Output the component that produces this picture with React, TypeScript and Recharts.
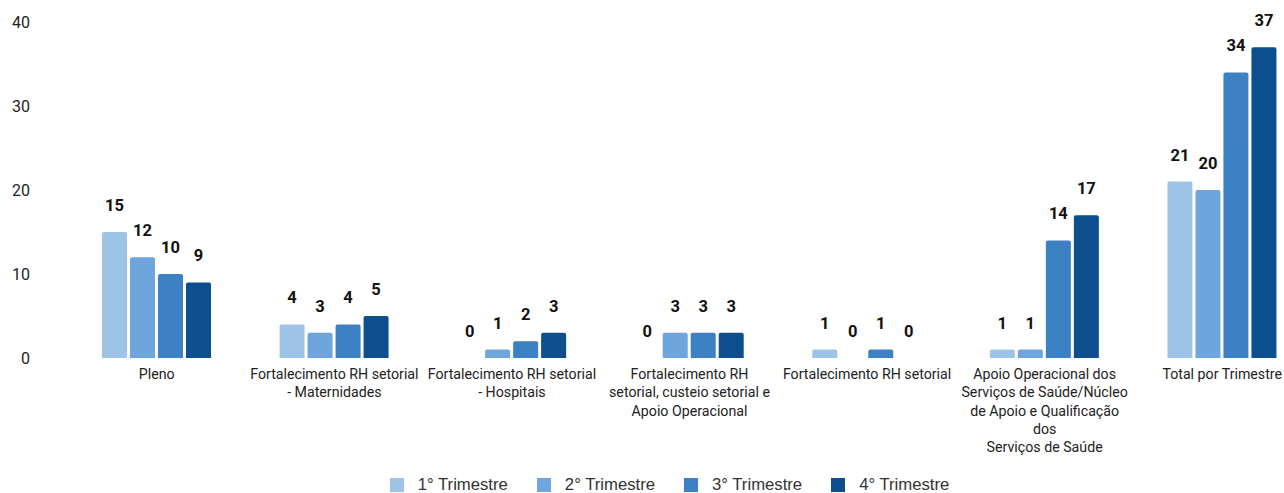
import React from 'react'
import { BarChart, Bar, XAxis, YAxis, Legend, LabelList, Rectangle } from 'recharts'

const categories = [
  'Pleno',
  'Fortalecimento RH setorial - Maternidades',
  'Fortalecimento RH setorial - Hospitais',
  'Fortalecimento RH setorial, custeio setorial e Apoio Operacional',
  'Fortalecimento RH setorial',
  'Apoio Operacional dos Serviços de Saúde/Núcleo de Apoio e Qualificação dos Serviços de Saúde',
  'Total por Trimestre',
]

const tickLines = [
  ['Pleno'],
  ['Fortalecimento RH setorial', '- Maternidades'],
  ['Fortalecimento RH setorial', '- Hospitais'],
  ['Fortalecimento RH', 'setorial, custeio setorial e', 'Apoio Operacional'],
  ['Fortalecimento RH setorial'],
  ['Apoio Operacional dos', 'Serviços de Saúde/Núcleo', 'de Apoio e Qualificação', 'dos', 'Serviços de Saúde'],
  ['Total por Trimestre'],
]

const q1 = [15, 4, 0, 0, 1, 1, 21]
const q2 = [12, 3, 1, 3, 0, 1, 20]
const q3 = [10, 4, 2, 3, 1, 14, 34]
const q4 = [9, 5, 3, 3, 0, 17, 37]

const seriesNames = ['1° Trimestre', '2° Trimestre', '3° Trimestre', '4° Trimestre']
const seriesColors = ['#9DC3E6', '#6FA5DD', '#3B81C3', '#0C4E8E']
const yTicks = [0, 10, 20, 30, 40]

const data = categories.map((name, i) => ({
  name,
  q1: q1[i],
  q2: q2[i],
  q3: q3[i],
  q4: q4[i],
}))

const keys = ['q1', 'q2', 'q3', 'q4']

function CategoryTick(props: any) {
  const { x, y, payload } = props
  const i = categories.indexOf(payload.value)
  const lines = tickLines[i] || [payload.value]
  return (
    <text x={x} y={y} textAnchor="middle" fill="#222" fontSize={14.2} fontFamily="Roboto">
      {lines.map((line, k) => (
        <tspan key={k} x={x} dy={k === 0 ? 13 : 18.3}>
          {line}
        </tspan>
      ))}
    </text>
  )
}

// zero bars get a 1px min size so their label exists; the bar itself is hidden
function BarShape(props: any) {
  if (props.value === 0 || (Array.isArray(props.value) && props.value[1] === 0)) return <g />
  return <Rectangle {...props} radius={[2, 2, 0, 0]} />
}

function ValueLabel(props: any) {
  const { x, y, width, height, value } = props
  if (value === undefined || value === null) return null
  const top = value === 0 ? y + height : y
  return (
    <text x={x + width / 2} y={top - 21} textAnchor="middle" fill="#111" fontSize={16.5} fontWeight="bold" fontFamily="Roboto">
      {value}
    </text>
  )
}

function LegendContent() {
  return (
    <div style={{ display: 'flex', justifyContent: 'center', alignItems: 'center', height: 24, paddingLeft: 28 }}>
      {seriesNames.map((n, i) => (
        <div key={n} style={{ display: 'flex', alignItems: 'center', marginRight: i < 3 ? 29 : 0 }}>
          <span style={{ width: 14, height: 14, background: seriesColors[i], display: 'inline-block', marginRight: 14 }} />
          <span style={{ fontFamily: '"Liberation Sans", Arial, sans-serif', fontSize: 16.7, color: '#333' }}>{n}</span>
        </div>
      ))}
    </div>
  )
}

export default function App() {
  return (
    <div style={{ position: 'fixed', left: 0, top: 0, width: 1284, height: 493, overflow: 'hidden', background: '#fff' }}>
      <BarChart
        width={1338}
        height={493}
        data={data}
        margin={{ top: 22, right: 27, left: 0, bottom: 6 }}
        barGap={3}
        barSize={25}
      >
        <XAxis
          dataKey="name"
          interval={0}
          axisLine={false}
          tickLine={false}
          height={105}
          tick={<CategoryTick />}
        />
        <YAxis
          domain={[0, 40]}
          ticks={yTicks}
          width={68}
          axisLine={false}
          tickLine={false}
          tickSize={0}
          tickMargin={38}
          tick={{ fill: '#222', fontSize: 16, fontFamily: 'Roboto' }}
        />
        <Legend verticalAlign="bottom" height={24} content={<LegendContent />} wrapperStyle={{ bottom: -4 }} />
        {keys.map((k, i) => (
          <Bar
            key={k}
            dataKey={k}
            name={seriesNames[i]}
            fill={seriesColors[i]}
            minPointSize={1}
            shape={<BarShape />}
            isAnimationActive={false}
          >
            <LabelList dataKey={k} content={<ValueLabel />} />
          </Bar>
        ))}
      </BarChart>
    </div>
  )
}
